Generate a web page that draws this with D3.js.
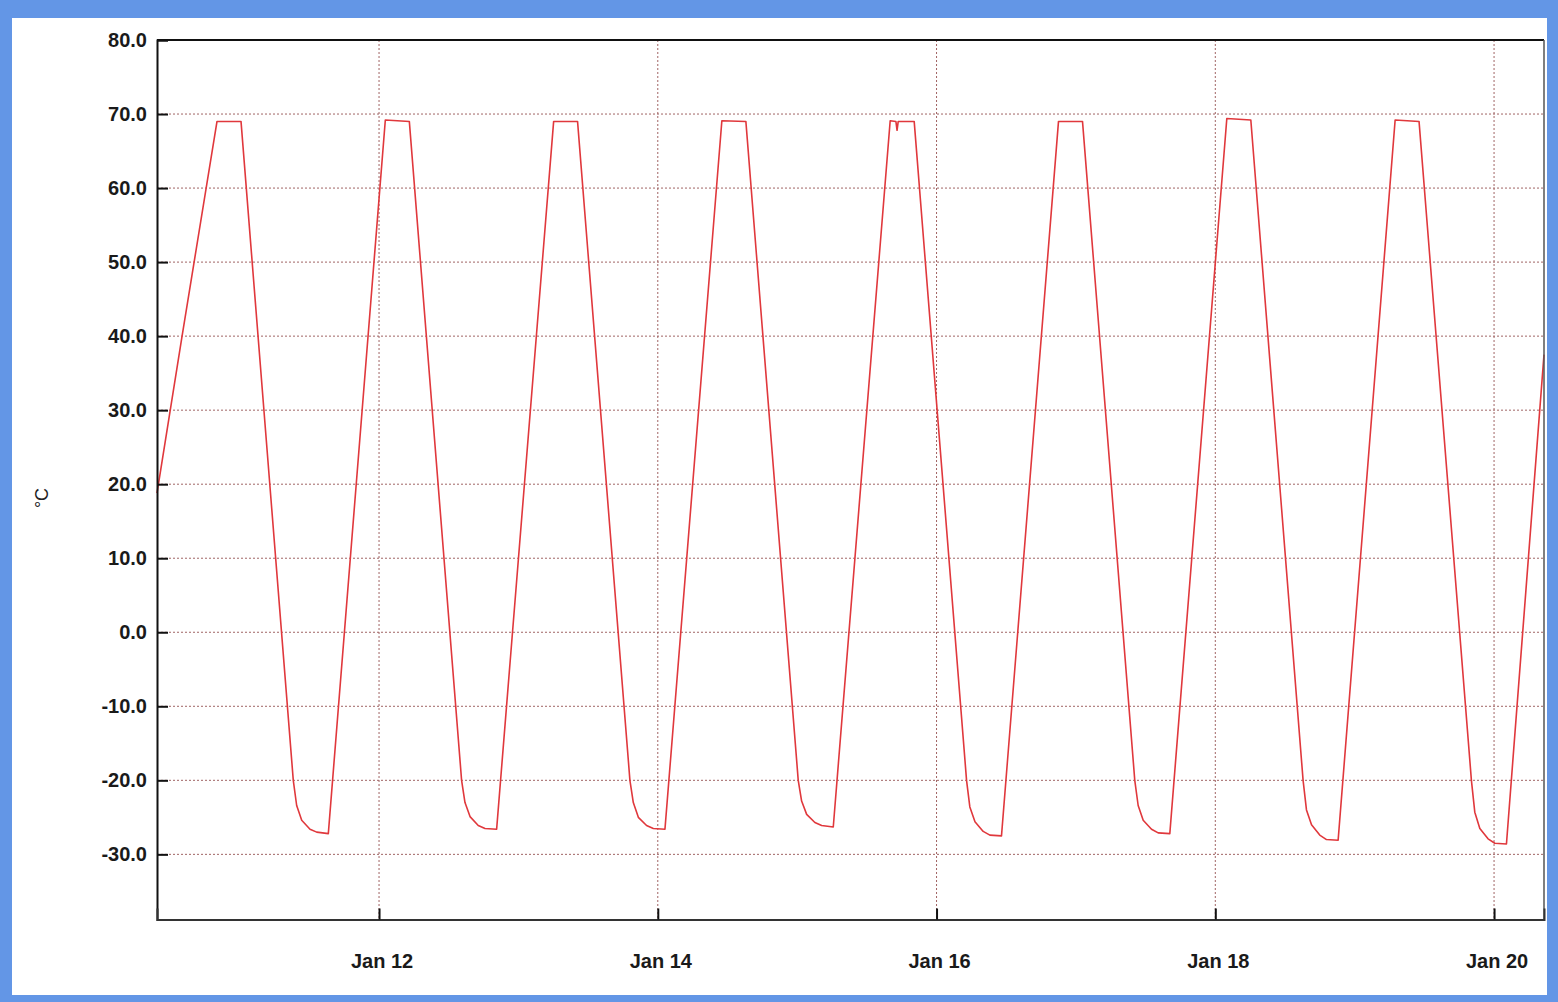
<!DOCTYPE html>
<html>
<head>
<meta charset="utf-8">
<script src="https://cdn.jsdelivr.net/npm/d3@7"></script>
<style>
  html, body { margin: 0; padding: 0; background: #6396e6; }
  svg { display: block; }
</style>
</head>
<body>
<svg id="chart" width="1558" height="1002"></svg>
<script>
// Temperature log: one reading per line break
let times = [
  "Jan 10 09:46", "Jan 10 14:05",
  "Jan 10 20:06", "Jan 11 00:14", "Jan 11 09:14", "Jan 11 09:49", "Jan 11 10:41", "Jan 11 12:07", "Jan 11 13:16", "Jan 11 15:16",
  "Jan 12 01:05", "Jan 12 05:13", "Jan 12 14:13", "Jan 12 14:48", "Jan 12 15:40", "Jan 12 17:05", "Jan 12 18:15", "Jan 12 20:15",
  "Jan 13 06:04", "Jan 13 10:11", "Jan 13 19:12", "Jan 13 19:47", "Jan 13 20:39", "Jan 13 22:04", "Jan 13 23:14", "Jan 14 01:14",
  "Jan 14 11:02", "Jan 14 15:10", "Jan 15 00:11", "Jan 15 00:46", "Jan 15 01:38", "Jan 15 03:03", "Jan 15 04:13", "Jan 15 06:13",
  "Jan 15 16:01", "Jan 15 17:00", "Jan 15 17:12", "Jan 15 17:24", "Jan 15 20:09", "Jan 16 05:10", "Jan 16 05:44", "Jan 16 06:37", "Jan 16 08:02", "Jan 16 09:11", "Jan 16 11:11",
  "Jan 16 21:00", "Jan 17 01:08", "Jan 17 10:08", "Jan 17 10:43", "Jan 17 11:35", "Jan 17 13:01", "Jan 17 14:10", "Jan 17 16:10",
  "Jan 18 01:59", "Jan 18 06:07", "Jan 18 15:07", "Jan 18 15:42", "Jan 18 16:34", "Jan 18 17:59", "Jan 18 19:09", "Jan 18 21:09",
  "Jan 19 06:58", "Jan 19 11:05", "Jan 19 20:06", "Jan 19 20:41", "Jan 19 21:33", "Jan 19 22:58", "Jan 20 00:08", "Jan 20 02:08",
  "Jan 20 08:36"
];
let temps = [
  18.8, 40.0,
  69.0, 69.0, -20.0, -23.4, -25.4, -26.6, -27.0, -27.2,
  69.2, 69.0, -20.0, -23.0, -24.9, -26.1, -26.5, -26.6,
  69.0, 69.0, -20.0, -23.0, -25.0, -26.1, -26.5, -26.6,
  69.1, 69.0, -20.0, -22.8, -24.6, -25.7, -26.1, -26.3,
  69.1, 69.0, 67.8, 69.0, 69.0, -20.0, -23.6, -25.6, -26.9, -27.4, -27.5,
  69.0, 69.0, -20.0, -23.4, -25.4, -26.6, -27.1, -27.2,
  69.4, 69.2, -20.0, -24.0, -26.0, -27.4, -28.0, -28.1,
  69.2, 69.0, -20.0, -24.3, -26.5, -27.9, -28.5, -28.6,
  37.5
];

let yTicks = [80, 70, 60, 50, 40, 30, 20, 10, 0, -10, -20, -30];
let xTickDays = ["Jan 12 00:00", "Jan 14 00:00", "Jan 16 00:00", "Jan 18 00:00", "Jan 20 00:00"];
let xRange = ["Jan 10 09:46", "Jan 20 08:36"];
let yRange = [-38.8, 80];
let yTitle = "°C";

/**
 * Draw the whole chart once the page is ready.
 */
document.addEventListener('DOMContentLoaded', () => {
  const parse = d3.timeParse("%b %d %H:%M");
  const fmt = d3.timeFormat("%b %d");

  const data = times.map((t, i) => ({t: parse(t), v: temps[i]}));

  const m = {left: 157, top: 40, right: 1544, bottom: 919.5};
  const svg = d3.select("#chart");

  // white card on the blue page
  svg.append("rect")
    .attr("x", 12).attr("y", 18)
    .attr("width", 1535).attr("height", 977)
    .attr("fill", "#ffffff");

  let x = d3.scaleTime()
    .domain(xRange.map(parse))
    .range([m.left, m.right]);
  let y = d3.scaleLinear()
    .domain(yRange)
    .range([m.bottom, m.top]);

  const gridColor = "#a06464";

  // horizontal grid
  svg.append("g").selectAll("line")
    .data(yTicks.filter(d => d < 80))
    .enter().append("line")
    .attr("x1", m.left).attr("x2", m.right)
    .attr("y1", d => y(d)).attr("y2", d => y(d))
    .attr("stroke", gridColor)
    .attr("stroke-width", 1)
    .attr("stroke-dasharray", "2,2");

  // vertical grid
  svg.append("g").selectAll("line")
    .data(xTickDays.map(parse))
    .enter().append("line")
    .attr("x1", d => x(d)).attr("x2", d => x(d))
    .attr("y1", m.top).attr("y2", m.bottom)
    .attr("stroke", gridColor)
    .attr("stroke-width", 1)
    .attr("stroke-dasharray", "2,2");

  // the temperature line
  let line = d3.line()
    .x(d => x(d.t))
    .y(d => y(d.v));

  svg.append("path")
    .datum(data)
    .attr("d", line)
    .attr("fill", "none")
    .attr("stroke", "#e0383c")
    .attr("stroke-width", 1.6)
    .attr("stroke-linejoin", "round");

  // frame
  svg.append("line").attr("x1", m.left).attr("x2", m.right).attr("y1", m.top).attr("y2", m.top)
    .attr("stroke", "#111").attr("stroke-width", 2);
  svg.append("line").attr("x1", m.right).attr("x2", m.right).attr("y1", m.top).attr("y2", m.bottom)
    .attr("stroke", "#555").attr("stroke-width", 1.5);

  // y axis: ticks pointing inward
  let yAxis = d3.axisRight(y)
    .tickValues(yTicks)
    .tickSize(11)
    .tickFormat("");
  let gy = svg.append("g")
    .attr("transform", `translate(${m.left},0)`)
    .call(yAxis);
  gy.select(".domain").attr("stroke", "#111").attr("stroke-width", 2);
  gy.selectAll(".tick line").attr("stroke", "#111").attr("stroke-width", 2);

  svg.append("g").selectAll("text")
    .data(yTicks)
    .enter().append("text")
    .attr("x", m.left - 10)
    .attr("y", d => y(d))
    .attr("dy", "0.33em")
    .attr("text-anchor", "end")
    .style("font-family", "'Liberation Sans', Arial, sans-serif")
    .style("font-weight", "bold")
    .style("font-size", "20px")
    .attr("fill", "#1a1a1a")
    .text(d => d.toFixed(1));

  // x axis: ticks pointing up
  let xAxis = d3.axisTop(x)
    .tickValues(xTickDays.map(parse))
    .tickSize(11)
    .tickFormat("");
  let gx = svg.append("g")
    .attr("transform", `translate(0,${m.bottom})`)
    .call(xAxis);
  gx.select(".domain").attr("stroke", "#333").attr("stroke-width", 2);
  gx.selectAll(".tick line").attr("stroke", "#111").attr("stroke-width", 2);

  svg.append("g").selectAll("text")
    .data(xTickDays.map(parse))
    .enter().append("text")
    .attr("x", d => x(d) + 3)
    .attr("y", 968)
    .attr("text-anchor", "middle")
    .style("font-family", "'Liberation Sans', Arial, sans-serif")
    .style("font-weight", "bold")
    .style("font-size", "20px")
    .attr("fill", "#1a1a1a")
    .text(d => fmt(d));

  // y title
  svg.append("text")
    .attr("transform", "translate(48,498) rotate(-90)")
    .attr("text-anchor", "middle")
    .style("font-family", "'Liberation Sans', Arial, sans-serif")
    .style("font-size", "18px")
    .attr("fill", "#222")
    .text(yTitle);
});
</script>
</body>
</html>
